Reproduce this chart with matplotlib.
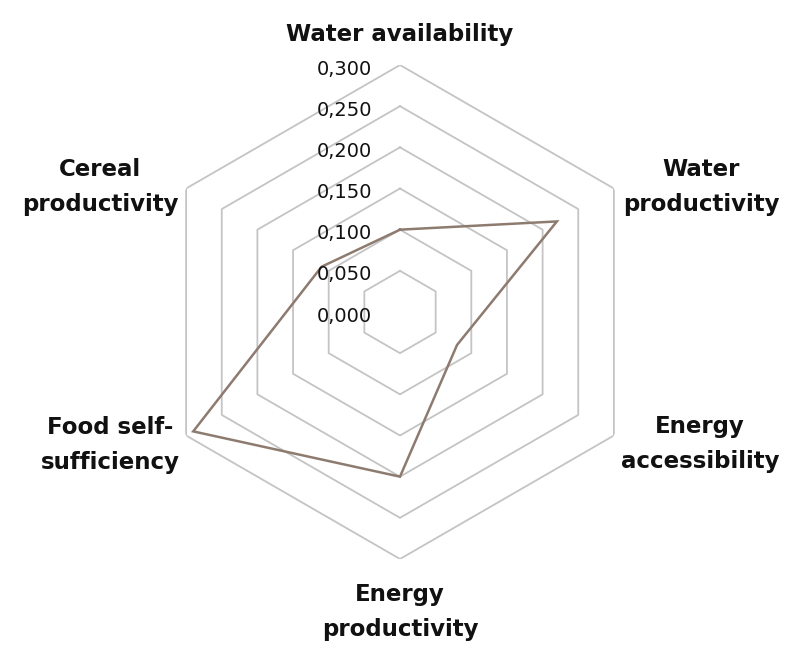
import numpy as np
import matplotlib
matplotlib.use("Agg")
import matplotlib.pyplot as plt

# =========================================================
# DATA
# =========================================================
categories = ["Water availability", "Water\nproductivity", "Energy\naccessibility",
              "Energy\nproductivity", "Food self-\nsufficiency", "Cereal\nproductivity"]
values = [0.100, 0.220, 0.080, 0.200, 0.290, 0.110]
ring_levels = [0.050, 0.100, 0.150, 0.200, 0.250, 0.300]
tick_values = [0.000, 0.050, 0.100, 0.150, 0.200, 0.250, 0.300]
tick_labels = ["0,000", "0,050", "0,100", "0,150", "0,200", "0,250", "0,300"]

# label centres in pixels (x, y from top)
label_pos = [(400, 35), (701, 187), (700, 444), (400, 612), (110, 445), (100, 187)]

plt.rcParams["font.family"] = ["DejaVu Sans"]

W, H = 800, 667
fig = plt.figure(figsize=(W / 100, H / 100), dpi=100)

# centre ~ (400, 312) px, outer radius ~ 247 px
cx, cy, rad = 400, 312, 247
ax = fig.add_axes([(cx - rad) / W, 1 - (cy + rad) / H, 2 * rad / W, 2 * rad / H],
                  projection="polar")
ax.set_theta_offset(np.pi / 2)
ax.set_theta_direction(-1)
ax.set_ylim(0, 0.3)
ax.grid(False)
ax.spines["polar"].set_visible(False)
ax.set_xticks([])
ax.set_yticks([])
ax.patch.set_alpha(0)

n = len(categories)
angles = np.linspace(0, 2 * np.pi, n, endpoint=False)
closed = np.concatenate([angles, angles[:1]])

# hexagonal grid
for r in ring_levels:
    ax.plot(closed, [r] * (n + 1), color="#c4c4c4", lw=1.3, zorder=1)

# series
vals = values + values[:1]
ax.plot(closed, vals, color="#8e7b70", lw=1.8, zorder=3, solid_joinstyle="miter")

# radial tick labels
for v, t in zip(tick_values, tick_labels):
    ax.annotate(t, xy=(0, v), xytext=(-20, -3), textcoords="offset points",
                ha="right", va="center", fontsize=14, color="#111111", zorder=4)

# category labels
for lab, (px, py) in zip(categories, label_pos):
    fig.text(px / W, 1 - py / H, lab, ha="center", va="center", fontsize=16.5,
             fontweight="bold", color="#111111", linespacing=1.65)

plt.savefig("out.png", dpi=100)
plt.close()
